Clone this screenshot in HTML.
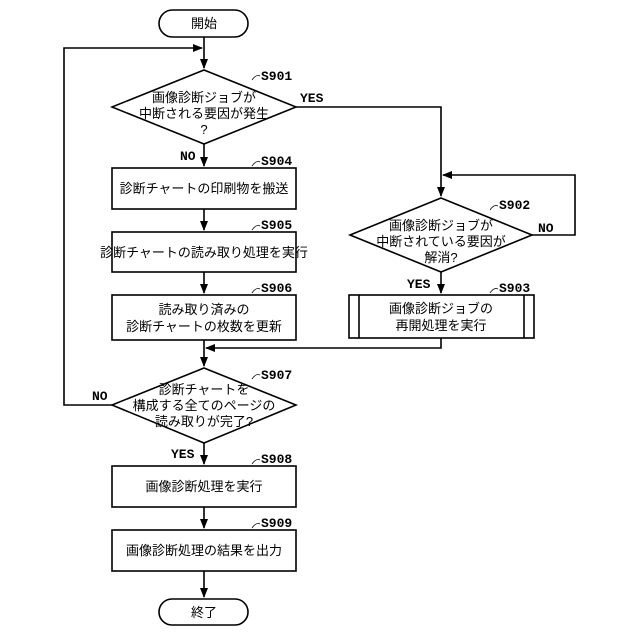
<!DOCTYPE html>
<html><head><meta charset="utf-8"><style>
html,body{margin:0;padding:0;background:#fff;}
svg{display:block}
text{font-family:"Liberation Sans","Noto Sans CJK JP",sans-serif;font-size:13px;fill:#000;text-anchor:middle}
.l{font-family:"Liberation Mono",monospace;font-weight:bold;font-size:13px;text-anchor:start}
</style></head><body>
<svg width="640" height="640" viewBox="0 0 640 640" xmlns="http://www.w3.org/2000/svg">
<defs><marker id="a" markerWidth="10" markerHeight="8" refX="9" refY="4" orient="auto" markerUnits="userSpaceOnUse"><path d="M0,0 L10,4 L0,8 Z" fill="#000"/></marker></defs>
<g stroke="#000" stroke-width="1.6" fill="none">
<rect x="159" y="10" width="89" height="27" rx="13.5"/>
<line x1="204" y1="37" x2="204" y2="68" marker-end="url(#a)"/>
<polyline points="112,405 64,405 64,48 202,48" marker-end="url(#a)"/>
<polygon points="204,70 296,107 204,144 112,107" fill="#fff"/>
<line x1="204" y1="144" x2="204" y2="166" marker-end="url(#a)"/>
<rect x="112" y="168" width="184" height="41"/>
<line x1="204" y1="209" x2="204" y2="230" marker-end="url(#a)"/>
<rect x="112" y="232" width="184" height="40"/>
<line x1="204" y1="272" x2="204" y2="293" marker-end="url(#a)"/>
<rect x="112" y="295" width="184" height="45"/>
<line x1="204" y1="340" x2="204" y2="366" marker-end="url(#a)"/>
<polygon points="204,368 296,405 204,443 112,405" fill="#fff"/>
<line x1="204" y1="443" x2="204" y2="464" marker-end="url(#a)"/>
<rect x="112" y="466" width="184" height="41"/>
<line x1="204" y1="507" x2="204" y2="528" marker-end="url(#a)"/>
<rect x="112" y="530" width="184" height="41"/>
<line x1="204" y1="571" x2="204" y2="597" marker-end="url(#a)"/>
<rect x="159" y="599" width="89" height="26" rx="13"/>
<polyline points="296,107 441,107 441,196" marker-end="url(#a)"/>
<polygon points="441,198 532,235 441,272 350,235" fill="#fff"/>
<polyline points="532,235 575,235 575,175 443,175" marker-end="url(#a)"/>
<line x1="441" y1="272" x2="441" y2="293" marker-end="url(#a)"/>
<rect x="349" y="295" width="185" height="43"/>
<line x1="359" y1="295" x2="359" y2="338"/><line x1="524" y1="295" x2="524" y2="338"/>
<polyline points="441,338 441,348 206,348" marker-end="url(#a)"/>
<g stroke-width="0.8"><path d="M252,80 q4,-6 8,-4"/><path d="M252,166 q4,-6 8,-4"/><path d="M252,230 q4,-6 8,-4"/><path d="M252,293 q4,-6 8,-4"/><path d="M252,379 q4,-6 8,-4"/><path d="M252,464 q4,-6 8,-4"/><path d="M252,528 q4,-6 8,-4"/><path d="M490,210 q4,-6 8,-4"/><path d="M490,293 q4,-6 8,-4"/></g>
</g>
<text x="204" y="28">開始</text>
<text x="204" y="102">画像診断ジョブが</text>
<text x="204" y="118">中断される要因が発生</text>
<text x="204" y="134">?</text>
<text x="204" y="193">診断チャートの印刷物を搬送</text>
<text x="204" y="257">診断チャートの読み取り処理を実行</text>
<text x="204" y="314">読み取り済みの</text>
<text x="204" y="331">診断チャートの枚数を更新</text>
<text x="204" y="394">診断チャートを</text>
<text x="204" y="410">構成する全てのページの</text>
<text x="204" y="426">読み取りが完了?</text>
<text x="204" y="491">画像診断処理を実行</text>
<text x="204" y="555">画像診断処理の結果を出力</text>
<text x="204" y="617">終了</text>
<text x="441" y="230">画像診断ジョブが</text>
<text x="441" y="246">中断されている要因が</text>
<text x="441" y="262">解消?</text>
<text x="441" y="313">画像診断ジョブの</text>
<text x="441" y="330">再開処理を実行</text>
<text class="l" x="261" y="80">S901</text>
<text class="l" x="261" y="165">S904</text>
<text class="l" x="261" y="229">S905</text>
<text class="l" x="261" y="292">S906</text>
<text class="l" x="261" y="379">S907</text>
<text class="l" x="261" y="463">S908</text>
<text class="l" x="261" y="527">S909</text>
<text class="l" x="499" y="209">S902</text>
<text class="l" x="499" y="292">S903</text>
<text class="l" x="300" y="102">YES</text>
<text class="l" x="180" y="160">NO</text>
<text class="l" x="538" y="232">NO</text>
<text class="l" x="407" y="288">YES</text>
<text class="l" x="92" y="400">NO</text>
<text class="l" x="171" y="458">YES</text>
</svg>
</body></html>
